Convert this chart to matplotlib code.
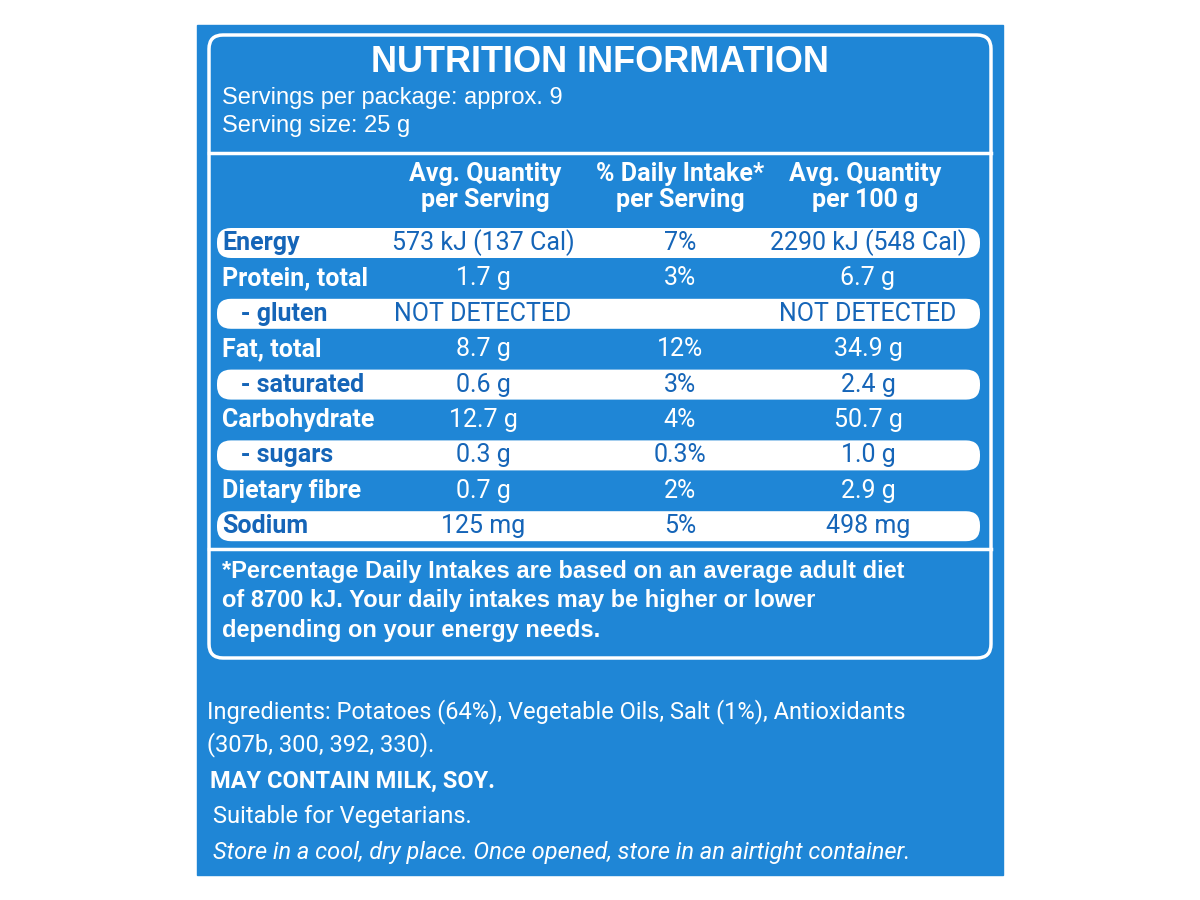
import matplotlib
matplotlib.use("Agg")
import matplotlib.pyplot as plt
from matplotlib.patches import FancyBboxPatch, Rectangle

nutrients = ["Energy", "Protein, total", "   - gluten", "Fat, total", "   - saturated",
             "Carbohydrate", "   - sugars", "Dietary fibre", "Sodium"]
per_serving = ["573 kJ (137 Cal)", "1.7 g", "NOT DETECTED", "8.7 g", "0.6 g",
               "12.7 g", "0.3 g", "0.7 g", "125 mg"]
daily_intake = ["7%", "3%", "", "12%", "3%", "4%", "0.3%", "2%", "5%"]
per_100g = ["2290 kJ (548 Cal)", "6.7 g", "NOT DETECTED", "34.9 g", "2.4 g",
            "50.7 g", "1.0 g", "2.9 g", "498 mg"]
headers = ["Avg. Quantity\nper Serving", "% Daily Intake*\nper Serving", "Avg. Quantity\nper 100 g"]
banded = [True, False, True, False, True, False, True, False, True]

BLUE = "#1f86d6"
DARK = "#1565b8"
NARROW = ["Liberation Sans Narrow", "Roboto", "DejaVu Sans"]
WIDE = ["Liberation Sans", "DejaVu Sans"]

fig = plt.figure(figsize=(12, 9), dpi=100)
ax = fig.add_axes([0, 0, 1, 1])
ax.set_xlim(0, 1200); ax.set_ylim(900, 0); ax.axis("off")
fig.patch.set_facecolor("white")

ax.add_patch(Rectangle((197, 25), 806, 850, color=BLUE, zorder=0))
ax.add_patch(FancyBboxPatch((209, 35), 782, 623, boxstyle="round,pad=0,rounding_size=14",
                            fill=False, ec="white", lw=2.5, zorder=1))
ax.plot([209, 991], [153, 153], color="white", lw=2.5)
ax.plot([209, 991], [549, 549], color="white", lw=2.5)

ax.text(600, 62, "NUTRITION INFORMATION", color="white", fontsize=26, fontweight="bold",
        ha="center", va="center", family=WIDE)
ax.text(222, 98, "Servings per package: approx. 9", color="white", fontsize=17, va="center", family=WIDE)
ax.text(222, 126, "Serving size: 25 g", color="white", fontsize=17, va="center", family=WIDE)

cols = [485, 680, 865]
for x, h in zip(cols, headers):
    ax.text(x, 187, h, color="white", fontsize=18, fontweight="bold", ha="center",
            va="center", linespacing=1.1, family=NARROW)

y0, dy = 243, 35.4
for i, (n, a, d, b, band) in enumerate(zip(nutrients, per_serving, daily_intake, per_100g, banded)):
    y = y0 + i * dy
    tc = DARK if band else "white"
    if band:
        ax.add_patch(FancyBboxPatch((217, y - 15), 763, 30,
                                    boxstyle="round,pad=0,rounding_size=14",
                                    fc="white", ec="none", zorder=1))
    ax.text(222, y, n, color=tc, fontsize=18, fontweight="bold", va="center", zorder=2, family=NARROW)
    ax.text(483, y, a, color=tc, fontsize=18, ha="center", va="center", zorder=2, family=NARROW)
    ax.text(680, y, d, color=tc, fontsize=18, ha="center", va="center", zorder=2, family=NARROW)
    ax.text(868, y, b, color=tc, fontsize=18, ha="center", va="center", zorder=2, family=NARROW)

foot = ("*Percentage Daily Intakes are based on an average adult diet\n"
        "of 8700 kJ. Your daily intakes may be higher or lower\n"
        "depending on your energy needs.")
ax.text(222, 601, foot, color="white", fontsize=17, fontweight="bold", va="center",
        linespacing=1.35, family=WIDE)

ax.text(207, 728, "Ingredients: Potatoes (64%), Vegetable Oils, Salt (1%), Antioxidants\n(307b, 300, 392, 330).",
        color="white", fontsize=17, va="center", linespacing=1.4, family=NARROW)
ax.text(210, 781, "MAY CONTAIN MILK, SOY.", color="white", fontsize=17, fontweight="bold", va="center", family=NARROW)
ax.text(213, 817, "Suitable for Vegetarians.", color="white", fontsize=17, va="center", family=NARROW)
ax.text(213, 852, "Store in a cool, dry place. Once opened, store in an airtight container.",
        color="white", fontsize=17, va="center", style="italic", family=NARROW)

fig.savefig("out.png", dpi=100)
